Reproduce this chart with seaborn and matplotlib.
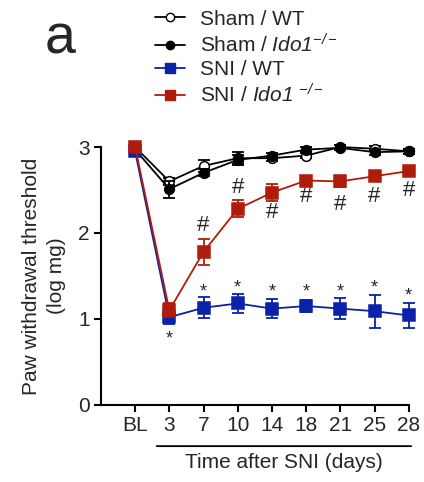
import numpy as np
import pandas as pd
import matplotlib
matplotlib.use("Agg")
import matplotlib.pyplot as plt
import seaborn as sns
from matplotlib.lines import Line2D

sns.set_style("ticks")
plt.rcParams['font.family'] = ['Liberation Sans', 'DejaVu Sans']
plt.rcParams['mathtext.fontset'] = 'custom'
plt.rcParams['mathtext.rm'] = 'Liberation Sans:italic'
plt.rcParams['mathtext.it'] = 'Liberation Sans:italic'

days = ["BL", "3", "7", "10", "14", "18", "21", "25", "28"]

sham_wt = [3.00, 2.60, 2.78, 2.87, 2.87, 2.90, 3.00, 2.98, 2.95]
sham_wt_err = [0.02, 0.04, 0.07, 0.07, 0.03, 0.03, 0.02, 0.03, 0.03]
sham_ko = [2.97, 2.51, 2.70, 2.85, 2.90, 2.97, 2.99, 2.94, 2.95]
sham_ko_err = [0.02, 0.10, 0.04, 0.06, 0.03, 0.03, 0.03, 0.03, 0.03]
sni_wt = [2.95, 1.02, 1.13, 1.18, 1.12, 1.15, 1.12, 1.09, 1.04]
sni_wt_err = [0.03, 0.08, 0.12, 0.11, 0.11, 0.07, 0.12, 0.19, 0.14]
sni_ko = [3.00, 1.10, 1.78, 2.28, 2.47, 2.61, 2.60, 2.66, 2.72]
sni_ko_err = [0.02, 0.08, 0.15, 0.10, 0.10, 0.04, 0.06, 0.03, 0.03]

hash_days = ["7", "10", "14", "18", "21", "25", "28"]
hash_y = [2.09, 2.53, 2.24, 2.42, 2.33, 2.42, 2.49]
star_days = ["3", "7", "10", "14", "18", "21", "25", "28"]
star_y = [0.77, 1.31, 1.36, 1.31, 1.31, 1.31, 1.36, 1.27]

BLUE = "#0a22a8"
RED = "#b01c0a"

fig = plt.figure(figsize=(4.24, 4.82), dpi=100)
ax = fig.add_axes([0.238, 0.16, 0.726, 0.535])
xpos = np.arange(len(days))

series = [
    ("Sham / WT", sham_wt, sham_wt_err, "black", "o", "white", 7),
    (r"Sham / $Ido1^{-/-}$", sham_ko, sham_ko_err, "black", "o", "black", 7),
    ("SNI / WT", sni_wt, sni_wt_err, BLUE, "s", BLUE, 8.5),
    (r"SNI / $Ido1$ $^{-/-}$", sni_ko, sni_ko_err, RED, "s", RED, 8.5),
]

handles = []
for i, (label, vals, err, col, mk, fc, ms) in enumerate(series):
    df = pd.DataFrame({"x": xpos, "y": vals})
    ax.errorbar(xpos, vals, yerr=err, fmt="none", ecolor=col, elinewidth=1.3,
                capsize=4, capthick=1.3, zorder=2 + i, clip_on=False)
    sns.lineplot(data=df, x="x", y="y", ax=ax, color=col, marker=mk,
                 markerfacecolor=fc, markeredgecolor=col, markersize=ms,
                 markeredgewidth=1.1, linewidth=1.3, zorder=3 + i, clip_on=False)
    handles.append(Line2D([0], [0], color=col, marker=mk, markerfacecolor=fc,
                          markeredgecolor=col, markersize=6 if mk == "o" else 6.5,
                          linewidth=1.3, label=label))

for d, y in zip(hash_days, hash_y):
    ax.text(days.index(d), y, "#", ha="center", va="center", fontsize=16)
for d, y in zip(star_days, star_y):
    ax.text(days.index(d), y, "*", ha="center", va="center", fontsize=13)

ax.set_xlim(-1, 8)
ax.set_ylim(0, 3)
ax.set_xticks(xpos)
ax.set_xticklabels(days)
ax.set_yticks([0, 1, 2, 3])
ax.tick_params(axis="both", labelsize=15, width=1.5, length=5, direction="out", color="black", pad=3)
for s in ["left", "bottom"]:
    ax.spines[s].set_linewidth(1.5)
    ax.spines[s].set_color("black")
sns.despine(ax=ax)
ax.set_xlabel("")
ax.set_ylabel("Paw withdrawal threshold\n(log mg)", fontsize=15, labelpad=9, linespacing=1.35)

# bracket line and x label
ax.annotate("", xy=(0.55, -0.16), xytext=(8.15, -0.16), xycoords=("data", "axes fraction"),
            textcoords=("data", "axes fraction"),
            arrowprops=dict(arrowstyle="-", lw=1.3, color="black"))
ax.text(4.35, -0.225, "Time after SNI (days)", transform=ax.get_xaxis_transform(),
        ha="center", va="center", fontsize=15)

fig.text(0.105, 0.918, "a", fontsize=40, ha="left", va="center")
fig.legend(handles=handles, loc="upper left", bbox_to_anchor=(0.346, 0.997), frameon=False,
           fontsize=15, handlelength=1.45, labelspacing=0.2, handletextpad=0.72, borderaxespad=0)

fig.savefig("out.png", dpi=100)
